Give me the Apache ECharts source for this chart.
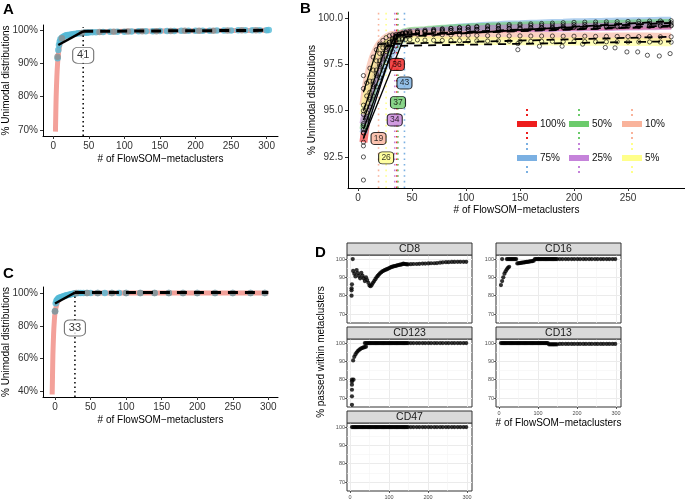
<!DOCTYPE html>
<html><head><meta charset="utf-8">
<script src="https://cdn.jsdelivr.net/npm/echarts@6/dist/echarts.min.js"></script>
<style>html,body{margin:0;padding:0;background:#fff}#c{width:685px;height:501px}</style>
</head><body><div id="c"></div>
<script>
// ---------------- Panel A ----------------
const aSmoothX = [3,3.5,4,5,6,7,8,10,12,15,20,25,30,40,50,75,100,150,200,250,300];
const aSmoothY = [69.5,75,80,86,90,92.5,94.3,96.2,97.1,97.8,98.4,98.7,98.9,99.2,99.35,99.5,99.6,99.7,99.8,99.85,99.9];
const aCyanX = [6,7,8,9,10,12,14,16,18,20,23,26,29,32,35,38,41,44,47,50,55,60,70,80,90,100,110,120,130,140,150,160,170,180,190,200,210,220,230,240,250,260,270,280,290,300,303];
const aCyanY = [91.5,94,95.5,96.5,97.2,97.7,98.0,98.2,98.4,98.5,98.6,98.7,98.8,98.9,99.0,99.05,99.1,99.15,99.2,99.25,99.3,99.35,99.4,99.45,99.5,99.5,99.55,99.6,99.6,99.65,99.7,99.7,99.7,99.75,99.75,99.8,99.8,99.8,99.85,99.85,99.85,99.9,99.9,99.9,99.9,99.95,100];
const aGreyX = [6,12,40,65,85,105,125,145,165,185,205,225,245,265,285];
const aGreyY = [92,97.5,99.1,99.4,99.5,99.55,99.6,99.65,99.7,99.75,99.8,99.8,99.85,99.9,99.9];
const aFitX = [7,42,300];
const aFitY = [95.5,99.6,99.9];
const aBreakX = 42, aBreakTop = 100.8, aLabelY = 92.4, aLabelText = '41';
const aXTicks = [0,50,100,150,200,250,300];
const aYTicks = [70,80,90,100];

// ---------------- Panel B ----------------
const xB = [5,8,11,14,17,20,23,26,29,32,35,38,41,44,48,55,62,70,78,86,94,102,110,120,130,140,150,160,170,180,190,200,210,220,230,240,250,260,270,280,290];
const bNames = ['100%','75%','50%','25%','10%','5%'];
const bColors = ['#EE1D1D','#7BB0E2','#6CCB6C','#C583DA','#F9B39B','#FFFF8A'];
const b100 = [93.3,94.6,95.6,96.4,97.0,97.5,97.9,98.3,98.6,98.85,99.0,99.1,99.15,99.2,99.22,99.25,99.28,99.3,99.32,99.34,99.36,99.38,99.4,99.42,99.44,99.46,99.48,99.5,99.51,99.52,99.53,99.54,99.55,99.56,99.57,99.58,99.59,99.6,99.61,99.62,99.63];
const b75 = [93.8,94.5,95.2,95.8,96.3,96.8,97.2,97.6,97.9,98.2,98.5,98.7,98.9,99.05,99.15,99.25,99.3,99.35,99.4,99.45,99.5,99.53,99.56,99.6,99.63,99.66,99.68,99.7,99.72,99.74,99.76,99.78,99.79,99.8,99.81,99.82,99.83,99.84,99.85,99.86,99.87];
const b50 = [94.0,94.9,95.7,96.3,96.9,97.4,97.8,98.2,98.5,98.75,98.95,99.1,99.2,99.25,99.3,99.33,99.36,99.4,99.43,99.46,99.48,99.5,99.52,99.54,99.56,99.58,99.6,99.62,99.63,99.64,99.65,99.66,99.67,99.68,99.69,99.7,99.71,99.72,99.73,99.74,99.75];
const b25 = [94.3,95.2,96.0,96.6,97.2,97.7,98.1,98.45,98.7,98.9,99.05,99.12,99.16,99.2,99.22,99.25,99.28,99.3,99.32,99.34,99.36,99.38,99.4,99.42,99.43,99.44,99.45,99.46,99.47,99.48,99.49,99.5,99.51,99.52,99.53,99.54,99.55,99.56,99.57,99.58,99.59];
const b10 = [95.3,96.5,97.3,97.9,98.3,98.6,98.8,98.95,99.05,99.1,99.12,99.14,99.15,99.15,99.15,99.14,99.13,99.12,99.11,99.1,99.09,99.08,99.07,99.06,99.05,99.05,99.05,99.04,99.04,99.04,99.03,99.03,99.03,99.02,99.02,99.02,99.01,99.01,99.01,99.0,99.0];
const b5 = [94.8,95.8,96.6,97.2,97.7,98.1,98.4,98.6,98.7,98.78,98.82,98.84,98.85,98.85,98.84,98.83,98.82,98.81,98.8,98.8,98.79,98.78,98.78,98.77,98.77,98.76,98.76,98.75,98.75,98.75,98.74,98.74,98.74,98.73,98.73,98.73,98.72,98.72,98.72,98.71,98.71];
const bOutX = [5,5,5,5,5,5,5,5,148,148,168,189,208,229,238,249,259,268,279,289];
const bOutY = [96.9,96.2,95.0,94.2,93.8,93.1,92.5,91.25,98.63,98.3,98.49,98.49,98.6,98.42,98.4,98.18,98.18,98.0,97.96,98.09];
const bThreshold = [36,43,37,34,19,26];
const bLabelY = [97.5,96.5,95.45,94.5,93.5,92.45];
const bFitFromX = 5, bFitToX = 290;
const bFitStart = [93.5,93.5,94.0,94.5,96.0,95.0];
const bFitBreak = [99.1,99.0,99.1,99.1,98.6,98.5];
const bFitEnd = [99.6,99.85,99.75,99.55,99.0,98.75];
const bXTicks = [0,50,100,150,200,250];
const bYTicks = [92.5,95,97.5,100];

// ---------------- Panel C ----------------
const cSmoothX = [-4,-3.5,-3,-2,-1,0,2,4,7,10,15,20,28,40,60,100,150,200,250,300];
const cSmoothY = [38,50,62,75,83,88,92.5,95,96.8,97.8,98.8,99.4,99.9,100.1,100.2,100.3,100.3,100.3,100.3,100.3];
const cCyanX = [0,1,2,3,4,5,6,8,10,12,14,16,18,20,22,24,26,28,30,33,36,40,45,50,60,70,80,90,100,120,140,160,180,200,225,250,275,295];
const cCyanY = [89,94,95.5,96,96.5,97,97.3,97.6,97.9,98.2,98.5,98.8,99,99.2,99.4,99.6,99.8,100,100.1,100.2,100.2,100.3,100.3,100.3,100.3,100.3,100.3,100.3,100.3,100.3,100.3,100.3,100.3,100.3,100.3,100.3,100.3,100.3];
const cGreyX = [0,30,45,60,80,100,120,140,160,180,200,225,250,275,295];
const cGreyY = [89,100.2,100.3,100.3,100.3,100.3,100.3,100.3,100.3,100.3,100.3,100.3,100.3,100.3,100.3];
const cFitX = [0,28,300];
const cFitY = [93.8,100.5,100.5];
const cBreakX = 28, cBreakTop = 100.8, cLabelY = 78.8, cLabelText = '33';
const cXTicks = [0,50,100,150,200,250,300];
const cYTicks = [40,60,80,100];

// ---------------- Panel D ----------------
const xDense = [5,8,11,14,17,20,23,26,29,32,35,38,41,44,47,50,53,56,59,62,65,68,71,74,77,80,83,86,89,92,95,98,101,104,107,110,113,116,119,122,125,128,131,134,137,140,143,146,149];
const xSparse = [156,163,171,178,186,193,201,208,216,223,231,238,246,253,261,268,276,283,291,298];
const cd8Y = [86.2,93.5,92,90.5,94,92.3,90.8,89.5,92.5,91,89.5,88,90,88.5,87,85.5,85.2,86,87,88,89,90,90.8,91.5,92.2,92.8,93.3,93.6,94,94.2,94.5,94.8,95.1,95.4,95.7,95.9,96.1,96.2,96.4,96.6,96.7,96.9,97.0,97.2,97.5,97.3,97.2,97.1,97.1,
  97.2,97.3,97.3,97.4,97.5,97.5,97.6,97.7,97.7,97.8,98.0,98.2,98.3,98.3,98.4,98.4,98.5,98.5,98.5,98.5];
const cd8Extra = [[4,80],[4,82.9],[4,84],[7,100]];
const cd16Y = [85.8,88,90,92,93.3,94.4,95.2,95.8,100,100,100,100,100,100,97.6,97.7,97.8,97.9,98,98.1,98.2,98.3,98.4,98.5,98.6,98.7,98.8,98.9,99.1,100,100,100,100,100,100,100,100,100,100,100,100,100,100,100,100,100,100,100,100,
  100,100,100,100,100,100,100,100,100,100,100,100,100,100,100,100,100,100,100,100];
const cd16Extra = [[8,100],[20,100],[23,100],[26,100]];
const cd123Y = [80,90.5,92.5,93.8,94.8,95.6,96.2,96.7,97.1,97.4,97.6,97.8,98.0,100,100,100,100,100,100,100,100,100,100,100,100,100,100,100,100,100,100,100,100,100,100,100,100,100,100,100,100,100,100,100,100,100,100,100,100,
  100,100,100,100,100,100,100,100,100,100,100,100,100,100,100,100,100,100,100,100];
const cd123Extra = [[5,79],[5,77.3],[5,74.5],[5,70.9],[5,66.3],[9,80],[38,100],[41,100]];
const cd13Y = [100,100,100,100,100,100,100,100,100,100,100,100,100,100,100,100,100,100,100,100,100,100,100,100,100,100,100,100,100,100,100,100,100,100,100,100,100,100,100,100,100,99.3,99.3,99.3,99.3,99.3,99.3,99.3,99.3,
  99.5,99.5,99.5,99.5,99.5,99.5,99.5,99.5,99.5,99.5,99.5,99.5,99.5,99.5,99.5,99.5,99.5,99.5,99.5,99.5];
const cd47Y = [100,100,100,100,100,100,100,100,100,100,100,100,100,100,100,100,100,100,100,100,100,100,100,100,100,100,100,100,100,100,100,100,100,100,100,100,100,100,100,100,100,100,100,100,100,100,100,100,100,
  100,100,100,100,100,100,100,100,100,100,100,100,100,100,100,100,100,100,100,100];
const dNames = ['CD8','CD16','CD123','CD13','CD47'];
const dXTicks = [0,100,200,300];
const dYTicks = [70,80,90,100];
const dXMinor = [50,150,250];
const dYMinor = [75,85,95];

// ---------------- helpers ----------------
const FONT = '"Liberation Sans", Arial, Helvetica, sans-serif';
const zip = (xs, ys) => xs.slice(0, Math.min(xs.length, ys.length)).map((x, i) => [x, ys[i]]);
const xD = xDense.concat(xSparse);

function classicX(gi, min, max, ticks, name, gap) {
  return {
    type: 'value', gridIndex: gi, min, max,
    axisLine: {show: true, onZero: false, lineStyle: {color: '#000', width: 1}},
    axisTick: {show: true, length: 3, lineStyle: {color: '#333', width: 1}, customValues: ticks},
    axisLabel: {customValues: ticks, color: '#333', fontSize: 10, fontFamily: FONT, margin: 5},
    splitLine: {show: false},
    name, nameLocation: 'middle', nameGap: gap, nameMoveOverlap: false,
    nameTextStyle: {color: '#000', fontSize: 10, fontFamily: FONT}
  };
}
function classicY(gi, min, max, ticks, fmt, name, gap) {
  return {
    type: 'value', gridIndex: gi, min, max,
    axisLine: {show: true, onZero: false, lineStyle: {color: '#000', width: 1}},
    axisTick: {show: true, length: 3, lineStyle: {color: '#333', width: 1}, customValues: ticks},
    axisLabel: {customValues: ticks, formatter: fmt, color: '#333', fontSize: 10, fontFamily: FONT, margin: 5},
    splitLine: {show: false},
    name, nameLocation: 'middle', nameGap: gap, nameMoveOverlap: false,
    nameTextStyle: {color: '#000', fontSize: 10, fontFamily: FONT}
  };
}

const grids = [
  {left: 43, top: 25, width: 235, height: 111},
  {left: 348, top: 12, width: 337, height: 176},
  {left: 43, top: 287, width: 235, height: 110},
  {left: 347, top: 255, width: 125, height: 68},
  {left: 496, top: 255, width: 125, height: 68},
  {left: 347, top: 339, width: 125, height: 68},
  {left: 496, top: 339, width: 125, height: 68},
  {left: 347, top: 423, width: 125, height: 68}
].map((g, i) => Object.assign(g, {
  outerBoundsMode: 'none', containLabel: false,
  show: i >= 3, borderColor: '#333', borderWidth: 1, backgroundColor: 'rgba(0,0,0,0)'
}));

const AX = {min: -14.5, max: 316}, AY = {min: 68.2, max: 101.5};
const BX = {min: -9.3, max: 302.8}, BY = {min: 90.82, max: 100.34};
const CX = {min: -16.9, max: 313.6}, CY = {min: 36.5, max: 103.9};
const DX = {min: -7.7, max: 312.8}, DY = {min: 65.1, max: 102.2};

const xAxes = [
  classicX(0, AX.min, AX.max, aXTicks, '# of FlowSOM\u2212metaclusters', 18),
  classicX(1, BX.min, BX.max, bXTicks, '# of FlowSOM\u2212metaclusters', 17),
  classicX(2, CX.min, CX.max, cXTicks, '# of FlowSOM\u2212metaclusters', 18)
];
const yAxes = [
  classicY(0, AY.min, AY.max, aYTicks, v => v + '%', '% Unimodal distributions', 32),
  classicY(1, BY.min, BY.max, bYTicks, v => v.toFixed(1), '% Unimodal distributions', 31),
  classicY(2, CY.min, CY.max, cYTicks, v => v + '%', '% Unimodal distributions', 32)
];
const dShowX = [false, false, false, true, true];
dNames.forEach((n, k) => {
  const gi = 3 + k;
  xAxes.push({
    type: 'value', gridIndex: gi, min: DX.min, max: DX.max,
    axisLine: {show: false, onZero: false},
    axisTick: {show: dShowX[k], length: 2, lineStyle: {color: '#333', width: 0.8}, customValues: dXTicks},
    axisLabel: {show: dShowX[k], customValues: dXTicks, color: '#4D4D4D', fontSize: 5.5, fontFamily: FONT, margin: 3},
    splitLine: {show: true, lineStyle: {color: '#EBEBEB', width: 1}},
    name: k === 3 ? '# of FlowSOM\u2212metaclusters' : '', nameLocation: 'middle', nameGap: 11, nameMoveOverlap: false,
    nameTextStyle: {color: '#000', fontSize: 10, fontFamily: FONT}
  });
  yAxes.push({
    type: 'value', gridIndex: gi, min: DY.min, max: DY.max,
    axisLine: {show: false, onZero: false},
    axisTick: {show: true, length: 2, lineStyle: {color: '#333', width: 0.8}, customValues: dYTicks},
    axisLabel: {customValues: dYTicks, color: '#4D4D4D', fontSize: 5.5, fontFamily: FONT, margin: 2},
    splitLine: {show: true, lineStyle: {color: '#EBEBEB', width: 1}}
  });
});

const series = [];
function line(gi, data, color, width, type, z, smooth) {
  series.push({type: 'line', xAxisIndex: gi, yAxisIndex: gi, data, symbol: 'none', showSymbol: false,
    smooth: smooth || false, lineStyle: {color, width, type: type || 'solid'}, z, silent: true});
}
function dots(gi, data, color, size, z) {
  series.push({type: 'scatter', xAxisIndex: gi, yAxisIndex: gi, data, symbol: 'circle', symbolSize: size,
    itemStyle: {color}, z, silent: true});
}
function labelBox(gi, x, y, text, fill, border, size, fs) {
  series.push({type: 'scatter', xAxisIndex: gi, yAxisIndex: gi, z: 8, silent: true,
    data: [{value: [x, y], itemStyle: {color: fill, borderColor: border, borderWidth: 1}}],
    symbol: 'roundRect', symbolSize: size,
    label: {show: true, position: 'inside', formatter: text, color: '#000', fontSize: fs, fontFamily: FONT}});
}

// A
line(0, zip(aSmoothX, aSmoothY), '#F3A19A', 5, 'solid', 2, 0.3);
dots(0, zip(aCyanX, aCyanY), '#52B9D6', 6.5, 3);
dots(0, zip(aGreyX, aGreyY), '#8E8E8E', 6.5, 4);
line(0, zip(aFitX.slice(0, 2), aFitY.slice(0, 2)), '#000', 2.5, 'solid', 5);
line(0, zip(aFitX.slice(1), aFitY.slice(1)), '#000', 3, [10, 7], 5);
line(0, [[aBreakX, AY.min], [aBreakX, aBreakTop]], '#000', 1.5, [1.5, 3], 6);
labelBox(0, aBreakX, aLabelY, aLabelText, '#fff', '#555', [21, 16], 11);

// C
line(2, zip(cSmoothX, cSmoothY), '#F3A19A', 5, 'solid', 2, 0.3);
dots(2, zip(cCyanX, cCyanY), '#52B9D6', 6.5, 3);
dots(2, zip(cGreyX, cGreyY), '#8E8E8E', 6.5, 4);
line(2, zip(cFitX.slice(0, 2), cFitY.slice(0, 2)), '#000', 2.5, 'solid', 5);
line(2, zip(cFitX.slice(1), cFitY.slice(1)), '#000', 3, [10, 7], 5);
line(2, [[cBreakX, CY.min], [cBreakX, cBreakTop]], '#000', 1.5, [1.5, 3], 6);
labelBox(2, cBreakX, cLabelY, cLabelText, '#fff', '#555', [21, 16], 11);

// B
const bVals = [b100, b75, b50, b25, b10, b5];
bNames.forEach((n, k) => {
  series.push({type: 'line', name: n, xAxisIndex: 1, yAxisIndex: 1, data: zip(xB, bVals[k]),
    symbol: 'none', showSymbol: false, smooth: 0.3, silent: true, z: 2,
    itemStyle: {color: bColors[k]},
    lineStyle: {color: bColors[k], width: 8, opacity: 0.6}});
});
bNames.forEach((n, k) => {
  line(1, [[bThreshold[k], BY.min], [bThreshold[k], BY.max]], bColors[k], 1.6, [1.6, 4], 3);
});
bNames.forEach((n, k) => {
  series.push({type: 'scatter', xAxisIndex: 1, yAxisIndex: 1, data: zip(xB, bVals[k]), symbol: 'circle',
    symbolSize: 4.2, silent: true, z: 4, itemStyle: {color: 'rgba(0,0,0,0)', borderColor: '#000', borderWidth: 0.8}});
});
series.push({type: 'scatter', xAxisIndex: 1, yAxisIndex: 1, data: zip(bOutX, bOutY), symbol: 'circle',
  symbolSize: 4.2, silent: true, z: 4, itemStyle: {color: 'rgba(0,0,0,0)', borderColor: '#000', borderWidth: 0.8}});
bNames.forEach((n, k) => {
  line(1, [[bFitFromX, bFitStart[k]], [bThreshold[k], bFitBreak[k]]], '#000', 1.3, 'solid', 5);
  line(1, [[bThreshold[k], bFitBreak[k]], [bFitToX, bFitEnd[k]]], '#000', 1.8, [8, 6], 5);
});
bNames.forEach((n, k) => {
  labelBox(1, bThreshold[k], bLabelY[k], String(bThreshold[k]), bColors[k], '#000', [15, 12], 8.5);
});

// D
const dVals = [cd8Y, cd16Y, cd123Y, cd13Y, cd47Y];
const dExtra = [cd8Extra, cd16Extra, cd123Extra, [], []];
dNames.forEach((n, k) => {
  const gi = 3 + k;
  series.push({type: 'scatter', xAxisIndex: gi, yAxisIndex: gi, data: zip(xD, dVals[k]).concat(dExtra[k]),
    symbol: 'circle', symbolSize: 4.2, itemStyle: {color: '#000'}, z: 3, silent: true,
    markLine: {silent: true, symbol: ['none', 'none'], z: 1, label: {show: false},
      lineStyle: {color: '#F4F4F4', width: 0.6, type: 'solid'},
      data: dXMinor.map(v => ({xAxis: v})).concat(dYMinor.map(v => ({yAxis: v})))}});
});

// Legend for B
const ICON = 'path://M0,12L20,12L20,18L0,18Z M9,0L11,0L11,2L9,2Z M9,5L11,5L11,7L9,7Z M9,23L11,23L11,25L9,25Z M9,28L11,28L11,30L9,30Z';
const legPos = [[512, 104], [512, 138], [564, 104], [564, 138], [617, 104], [617, 138]];
const legends = bNames.map((n, k) => ({
  left: legPos[k][0], top: legPos[k][1], orient: 'horizontal', selectedMode: false,
  itemWidth: 20, itemHeight: 30, itemGap: 0,
  data: [{name: n, icon: ICON, itemStyle: {color: bColors[k], opacity: 1}}],
  textStyle: {color: '#111', fontSize: 10, fontFamily: FONT, padding: [0, 0, 0, -2]}
}));

// Strips, panel letters, D y-title
const stripPos = [[347, 243], [496, 243], [347, 327], [496, 327], [347, 411]];
const graphic = [
  {type: 'text', left: 3, top: 2, style: {text: 'A', font: 'bold 15px ' + FONT, fill: '#000'}},
  {type: 'text', left: 300, top: 1, style: {text: 'B', font: 'bold 15px ' + FONT, fill: '#000'}},
  {type: 'text', left: 3, top: 266, style: {text: 'C', font: 'bold 15px ' + FONT, fill: '#000'}},
  {type: 'text', left: 315, top: 245, style: {text: 'D', font: 'bold 15px ' + FONT, fill: '#000'}},
  {type: 'text', x: 321, y: 352, rotation: Math.PI / 2,
    style: {text: '% passed within metaclusters', font: '10px ' + FONT, fill: '#000', align: 'center', verticalAlign: 'middle'}}
];
dNames.forEach((n, k) => {
  graphic.push({type: 'rect', shape: {x: stripPos[k][0], y: stripPos[k][1], width: 125, height: 12},
    style: {fill: '#D9D9D9', stroke: '#333', lineWidth: 1}, z: 10});
  graphic.push({type: 'text', x: stripPos[k][0] + 62.5, y: stripPos[k][1] + 6.5, z: 11,
    style: {text: n, font: '10.5px ' + FONT, fill: '#1A1A1A', align: 'center', verticalAlign: 'middle'}});
});

const chart = echarts.init(document.getElementById('c'), null, {renderer: 'canvas'});
chart.setOption({
  animation: false,
  backgroundColor: '#fff',
  textStyle: {fontFamily: FONT},
  grid: grids,
  xAxis: xAxes,
  yAxis: yAxes,
  legend: legends,
  series,
  graphic
});
</script></body></html>
